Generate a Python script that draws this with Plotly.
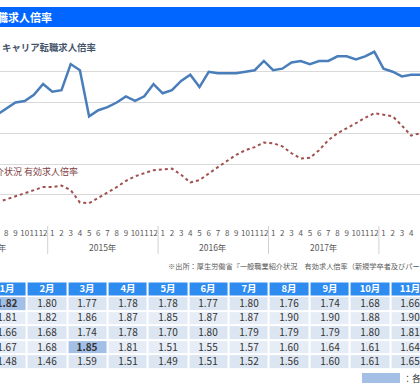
import plotly.graph_objects as go

W, H = 420, 390

# ---------------- data ----------------
years = [2014, 2015, 2016, 2017, 2018]
month_names = ["1月", "2月", "3月", "4月", "5月", "6月", "7月", "8月", "9月", "10月", "11月", "12月"]
year_labels = ["2014年", "2015年", "2016年", "2017年", "2018年"]

career_2014 = [1.48, 1.46, 1.59, 1.51, 1.49, 1.51, 1.52, 1.56, 1.60, 1.61, 1.65, 1.72]
career_2015 = [1.67, 1.68, 1.85, 1.81, 1.51, 1.55, 1.57, 1.60, 1.64, 1.61, 1.64, 1.72]
career_2016 = [1.66, 1.68, 1.74, 1.78, 1.70, 1.80, 1.79, 1.79, 1.79, 1.80, 1.81, 1.87]
career_2017 = [1.81, 1.82, 1.86, 1.87, 1.85, 1.87, 1.87, 1.90, 1.90, 1.88, 1.90, 1.93]
career_2018 = [1.82, 1.80, 1.77, 1.78, 1.78, 1.77, 1.80, 1.76, 1.74, 1.68, 1.66]
career = {2014: career_2014, 2015: career_2015, 2016: career_2016, 2017: career_2017, 2018: career_2018}

# 一般職業紹介状況 有効求人倍率 (from Jul 2014)
general_2014 = [None] * 6 + [0.95, 0.97, 0.99, 1.01, 1.03, 1.05]
general_2015 = [1.05, 1.06, 1.03, 0.95, 0.945, 0.98, 1.01, 1.05, 1.09, 1.12, 1.14, 1.16]
general_2016 = [1.165, 1.17, 1.13, 1.08, 1.095, 1.14, 1.18, 1.22, 1.26, 1.29, 1.31, 1.34]
general_2017 = [1.335, 1.315, 1.27, 1.235, 1.24, 1.29, 1.355, 1.40, 1.43, 1.465, 1.50, 1.53]
general_2018 = [1.52, 1.51, 1.45, 1.385, 1.40]
general = {2014: general_2014, 2015: general_2015, 2016: general_2016, 2017: general_2017, 2018: general_2018}

table_rows = [2018, 2017, 2016, 2015, 2014]

FONT = "Noto Sans CJK JP"
BLUE = "#4A7EBB"
RED = "#A0504E"


def py2paper(py):
    return (H - py) / H


def series(d):
    xs, ys = [], []
    for y in years:
        for m, v in enumerate(d[y]):
            if v is None:
                continue
            xs.append((y - 2014) * 12 + m)
            ys.append(v)
    return xs, ys


fig = go.Figure()

cx, cy = series(career)
gx, gy = series(general)

fig.add_trace(go.Scatter(x=gx, y=gy, mode="lines", line=dict(color=RED, width=2, dash="dot"),
                         hoverinfo="skip", showlegend=False))
fig.add_trace(go.Scatter(x=cx, y=cy, mode="lines", line=dict(color=BLUE, width=2.5),
                         hoverinfo="skip", showlegend=False))

# ---------------- main axes geometry ----------------
px_jan2015 = 52.3
px_per_month = 9.2
x_lo = 12 + (0 - px_jan2015) / px_per_month
x_hi = 12 + (W - px_jan2015) / px_per_month


def idx2paper(idx):
    return (idx - x_lo) / (x_hi - x_lo)


# y: 2.0 at 41px, 0.8 at 225.5px
ppu = (225.5 - 41) / 1.2
y_lo, y_hi = 0.795, 2.005
dom_bottom = py2paper(225.5 + (0.8 - y_lo) * ppu)
dom_top = py2paper(41 - (y_hi - 2.0) * ppu)

tickvals = list(range(0, 60))
ticktext = [str(i % 12 + 1) for i in tickvals]

fig.update_layout(
    width=W, height=H, margin=dict(l=0, r=0, t=0, b=0, autoexpand=False),
    paper_bgcolor="white", plot_bgcolor="white",
    font=dict(family=FONT, color="#595959"),
    xaxis=dict(domain=[0, 1], range=[x_lo, x_hi], tickvals=tickvals, ticktext=ticktext,
               showgrid=False, zeroline=False, showline=False, ticks="", tickangle=0,
               automargin=False, ticklabelstandoff=1,
               tickfont=dict(size=8, color="#595959", family=FONT), anchor="y"),
    yaxis=dict(domain=[dom_bottom, dom_top], range=[y_lo, y_hi], tick0=0.8, dtick=0.2,
               showgrid=True, gridcolor="#D9D9D9", gridwidth=1, zeroline=False, automargin=False,
               showticklabels=False, ticks="", anchor="x"),
)

shapes = []
annotations = []

# year separators and year labels
for i, y in enumerate(years):
    start = (y - 2014) * 12
    if i > 0:
        shapes.append(dict(type="line", xref="x", yref="paper", x0=start - 0.5, x1=start - 0.5,
                           y0=py2paper(226), y1=py2paper(254), line=dict(color="#D0D0D0", width=1)))
    annotations.append(dict(text=year_labels[i], xref="paper", yref="paper",
                            x=idx2paper(start + 5.5), y=py2paper(247), xanchor="center", yanchor="middle",
                            showarrow=False, font=dict(size=8.5, color="#595959", family=FONT)))

# title bar
shapes.append(dict(type="rect", xref="paper", yref="paper", x0=0, x1=1,
                   y0=py2paper(27), y1=py2paper(7), fillcolor="#0066FF", line=dict(width=0), layer="below"))
annotations.append(dict(text="<b>転職求人倍率</b>", xref="paper", yref="paper", x=54 / W, y=py2paper(17),
                        xanchor="right", yanchor="middle", showarrow=False,
                        font=dict(size=11, color="white", family=FONT)))

# series labels
annotations.append(dict(text="<b>キャリア転職求人倍率</b>", xref="paper", yref="paper", x=0, y=py2paper(47),
                        xanchor="left", yanchor="middle", showarrow=False,
                        font=dict(size=9.4, color="#44546A", family=FONT)))
annotations.append(dict(text="一般職業紹介状況 有効求人倍率", xref="paper", yref="paper", x=80 / W,
                        y=py2paper(171), xanchor="right", yanchor="middle", showarrow=False,
                        font=dict(size=9, color="#7F3F3F", family=FONT)))

# source
annotations.append(dict(text="※出所：厚生労働省『一般職業紹介状況　有効求人倍率（新規学卒者及びパートタイムを除く）』",
                        xref="paper", yref="paper", x=166 / W, y=py2paper(266), xanchor="left",
                        yanchor="middle", showarrow=False, font=dict(size=7.2, color="#595959", family=FONT)))

# ---------------- table (heatmap) ----------------
C_HEAD, C_ODD, C_EVEN, C_HI = "#2E8BEF", "#DCE6F2", "#E6EDF7", "#A3BFE5"
cs = [[0, C_HEAD], [0.1667, C_HEAD], [0.1667, C_ODD], [0.5, C_ODD],
      [0.5, C_EVEN], [0.8333, C_EVEN], [0.8333, C_HI], [1, C_HI]]

months = list(range(1, 13))
body_z, body_t = [], []
for r, y in enumerate(table_rows):
    vals = career[y]
    vmax = max(vals)
    zr, tr = [], []
    for m in range(12):
        if m < len(vals):
            v = vals[m]
            if v == vmax:
                zr.append(3)
                tr.append("<b>%.2f</b>" % v)
            else:
                zr.append(1 if r % 2 == 0 else 2)
                tr.append("%.2f" % v)
        else:
            zr.append(None)
            tr.append("")
    body_z.append(zr)
    body_t.append(tr)

fig.add_trace(go.Heatmap(x=months, y=[0], z=[[0] * 12], text=[["<b>%s</b>" % n for n in month_names]],
                         texttemplate="%{text}", textfont=dict(size=9.5, color="white", family=FONT),
                         colorscale=cs, zmin=0, zmax=3, showscale=False, xgap=2, ygap=2,
                         hoverinfo="skip", xaxis="x2", yaxis="y2"))
fig.add_trace(go.Heatmap(x=months, y=[1, 2, 3, 4, 5], z=body_z, text=body_t,
                         texttemplate="%{text}", textfont=dict(size=10, color="#333333", family=FONT),
                         colorscale=cs, zmin=0, zmax=3, showscale=False, xgap=2, ygap=2,
                         hoverinfo="skip", xaxis="x2", yaxis="y2"))

col_w = 40.35
col1_center = 6.7
x2_lo = 1 + (0 - col1_center) / col_w
x2_hi = 1 + (W - col1_center) / col_w
fig.update_layout(
    xaxis2=dict(domain=[0, 1], range=[x2_lo, x2_hi], visible=False, anchor="y2", automargin=False),
    yaxis2=dict(domain=[py2paper(369), py2paper(281.5)], range=[5.5, -0.5], visible=False,
                anchor="x2", automargin=False),
)

# legend key
shapes.append(dict(type="rect", xref="paper", yref="paper", x0=362 / W, x1=400 / W,
                   y0=py2paper(383), y1=py2paper(373), fillcolor=C_HI, line=dict(width=0)))
annotations.append(dict(text="：各年の最高値", xref="paper", yref="paper", x=401 / W, y=py2paper(378),
                        xanchor="left", yanchor="middle", showarrow=False,
                        font=dict(size=9, color="#333333", family=FONT)))

fig.update_layout(shapes=shapes, annotations=annotations)
fig.write_html("out.html", config={"displayModeBar": False},
               post_script="document.body.style.margin='0';document.body.style.overflow='hidden';")
